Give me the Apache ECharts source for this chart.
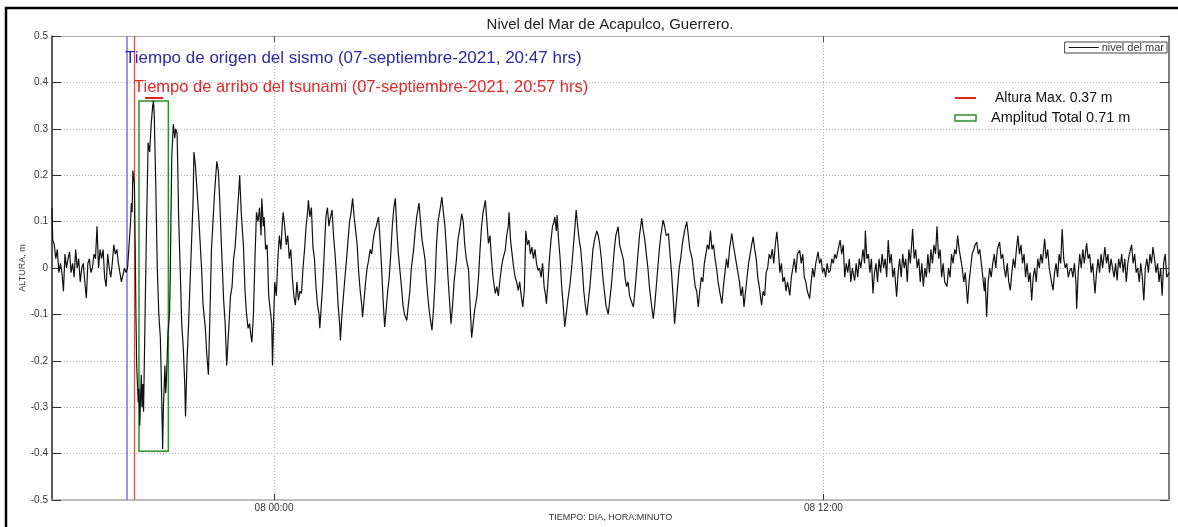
<!DOCTYPE html>
<html>
<head>
<meta charset="utf-8">
<script src="https://cdn.jsdelivr.net/npm/echarts@6/dist/echarts.min.js"></script>
<style>
html,body{margin:0;padding:0;background:#fff;}
#c{width:1178px;height:527px;}
</style>
</head>
<body>
<div id="c"></div>
<script>
// time in minutes relative to 08-sep-2021 00:00, sea level in metres
const calmBefore = [[-291,0.13],[-290,0.06],[-288,0.05],[-286,0.02],[-284,0.04],[-282,-0.01],[-280,0.01],[-278,-0.01],[-276,-0.05],[-274,0.03],[-272,0.0],[-270,0.02],[-268,0.035],[-266,-0.01],[-264,0.01],[-262,-0.02],[-260,0.04],[-258,0.0],[-256,0.02],[-254,-0.03],[-252,0.0],[-250,0.01],[-248,-0.03],[-246,-0.065],[-244,0.01],[-242,0.02],[-240,-0.01],[-238,0.0],[-236,0.03],[-234,0.02],[-232,0.09],[-230,0.0],[-228,0.04],[-226,0.02],[-224,0.04],[-222,-0.02],[-220,-0.04],[-218,0.03],[-216,0.0],[-214,-0.02],[-212,0.01],[-210,0.05],[-208,0.03],[-206,0.04],[-204,0.01],[-202,-0.01],[-200,-0.03],[-198,-0.03],[-196,0.0],[-194,-0.01],[-192,0.0]];
const tsunamiWaves = [[-190,0.05],[-188,0.1],[-187,0.14],[-186,0.12],[-185,0.21],[-183,0.18],[-182,0.05],[-181,-0.1],[-180,-0.21],[-178,-0.29],[-177,-0.26],[-176,-0.34],[-174,-0.23],[-173,-0.3],[-172,-0.25],[-171,-0.31],[-169,-0.1],[-167,0.1],[-165,0.27],[-163,0.25],[-161,0.31],[-159,0.35],[-158,0.36],[-157,0.33],[-155,0.18],[-153,0.0],[-151,-0.1],[-149,-0.15],[-148,-0.22],[-147,-0.3],[-146,-0.39],[-145,-0.3],[-143,-0.21],[-142,-0.27],[-141,-0.24],[-139,-0.14],[-137,-0.1],[-136,-0.02],[-135,0.12],[-134,0.24],[-132,0.31],[-130,0.28],[-129,0.3],[-127,0.29],[-125,0.11],[-123,0.0],[-121,-0.12],[-119,-0.17],[-117,-0.25],[-116,-0.32],[-114,-0.2],[-112,-0.12],[-110,-0.03],[-108,0.06],[-106,0.15],[-105,0.25],[-103,0.22],[-101,0.17],[-99,0.12],[-97,0.06],[-95,0.0],[-93,-0.08],[-90,-0.13],[-88,-0.19],[-86,-0.23],[-84,-0.1],[-82,0.04],[-80,0.1],[-78,0.16],[-75,0.23],[-73,0.21],[-71,0.14],[-69,0.05],[-66,-0.07],[-64,-0.12],[-62,-0.21],[-60,-0.15],[-57,-0.06],[-55,-0.04],[-53,0.02],[-51,0.045],[-48,0.12],[-46,0.17],[-45,0.2],[-43,0.12],[-40,0.045],[-38,-0.05],[-36,-0.1],[-34,-0.13],[-32,-0.12],[-30,-0.15],[-29,-0.16],[-27,-0.1],[-25,0.02],[-23,0.12],[-21,0.1]];
const decayWaves = [[-19,0.13],[-17,0.07],[-16,0.15],[-14,0.09],[-13,0.11],[-11,0.04],[-9,0.05],[-7,-0.06],[-5,-0.09],[-3,-0.12],[-2,-0.21],[0,-0.08],[1,-0.03],[3,-0.06],[5,0.02],[7,0.07],[9,0.04],[11,0.1],[12,0.12],[14,0.09],[16,0.05],[18,0.07],[20,0.02],[22,0.04],[24,-0.02],[26,-0.06],[28,-0.08],[30,-0.03],[32,-0.07],[34,-0.05],[36,-0.055],[38,0.0],[40,0.04],[42,0.09],[44,0.12],[45,0.146],[47,0.11],[49,0.13],[51,0.045],[53,0.02],[55,-0.04],[57,-0.08],[59,-0.1],[60,-0.13],[62,-0.08],[64,-0.03],[66,0.04],[68,0.11],[70,0.13],[72,0.09],[74,0.11],[76,0.125],[78,0.07],[80,0.03],[82,-0.02],[84,-0.08],[86,-0.12],[87,-0.156],[89,-0.1],[91,-0.06],[93,-0.02],[95,0.017],[97,0.06],[99,0.1],[101,0.12],[103,0.15],[105,0.11],[107,0.08],[109,0.05],[111,-0.01],[113,-0.05],[115,-0.08],[116,-0.106],[118,-0.07],[120,-0.03],[122,0.0],[124,0.017],[126,0.04],[128,0.03],[130,0.06],[132,0.08],[134,0.09],[137,0.11],[139,0.06],[141,0.0],[143,-0.07],[145,-0.127],[147,-0.09],[149,-0.05],[151,-0.02],[153,0.03],[155,0.09],[157,0.13],[159,0.15],[161,0.08],[163,0.03],[165,-0.005],[167,-0.04],[169,-0.08],[171,-0.1],[174,-0.113],[176,-0.08],[178,-0.05],[180,0.0],[183,0.04],[185,0.08],[187,0.11],[190,0.14],[192,0.1],[194,0.06],[196,0.04],[198,0.017],[200,-0.03],[202,-0.07],[204,-0.1],[207,-0.134],[209,-0.09],[211,-0.03],[213,0.053],[215,0.1],[218,0.13],[220,0.153],[222,0.12],[224,0.09],[226,0.04],[228,-0.02],[230,-0.07],[232,-0.12],[234,-0.08],[236,-0.03],[239,0.017],[241,0.06],[244,0.09],[246,0.117],[248,0.1],[250,0.05],[252,0.02],[255,-0.005],[257,-0.08],[259,-0.15],[261,-0.12],[263,-0.09],[266,-0.06],[268,-0.02],[270,0.04],[272,0.09],[274,0.12],[277,0.146],[279,0.1],[281,0.053],[283,0.07],[285,0.02],[287,-0.02],[290,-0.055],[292,-0.04],[294,-0.06],[296,-0.027],[298,0.0],[300,0.02],[303,0.038],[305,0.07],[307,0.09],[308,0.12],[310,0.06],[312,0.03],[314,0.002],[316,-0.02],[318,-0.03],[320,-0.048],[322,-0.03],[324,-0.06],[326,-0.084],[328,-0.05],[330,0.08],[332,0.05],[334,0.06],[336,0.03],[338,0.045],[340,0.02],[342,0.04],[344,0.01],[346,-0.005],[348,0.0]];
const lateWaves = [[350,-0.02],[352,0.01],[354,-0.04],[356,-0.06],[357,-0.077],[359,-0.03],[361,0.02],[363,0.06],[365,0.09],[367,0.1],[368,0.11],[370,0.08],[371,0.114],[373,0.06],[375,0.02],[377,-0.04],[379,-0.08],[381,-0.127],[383,-0.1],[385,-0.07],[388,-0.034],[390,0.0],[392,0.04],[394,0.08],[396,0.125],[398,0.09],[400,0.06],[402,0.04],[404,0.0],[406,-0.05],[408,-0.08],[410,-0.102],[412,-0.07],[414,-0.04],[416,0.0],[418,0.04],[420,0.06],[423,0.08],[425,0.07],[427,0.05],[429,0.02],[431,-0.02],[433,-0.05],[435,-0.08],[438,-0.1],[440,-0.07],[442,-0.04],[444,0.0],[446,0.04],[448,0.07],[451,0.089],[453,0.05],[456,0.03],[458,0.017],[460,-0.02],[462,-0.04],[464,-0.03],[466,-0.06],[468,-0.07],[471,-0.084],[473,-0.05],[475,-0.01],[477,0.03],[479,0.07],[482,0.107],[484,0.08],[486,0.06],[488,0.03],[490,0.0],[492,-0.04],[494,-0.07],[497,-0.109],[499,-0.08],[501,-0.04],[503,0.0],[505,0.04],[507,0.07],[510,0.103],[512,0.09],[514,0.07],[517,0.074],[519,0.03],[521,-0.01],[523,-0.06],[525,-0.12],[527,-0.08],[529,-0.04],[531,0.0],[533,0.02],[535,0.05],[538,0.08],[541,0.1],[543,0.07],[545,0.04],[548,0.02],[550,-0.01],[552,-0.04],[554,-0.05],[556,-0.084],[558,-0.05],[560,-0.02],[562,-0.03],[564,0.01],[566,0.03],[568,0.05],[570,0.04],[572,0.08],[574,0.04],[576,0.05],[578,0.02],[580,0.0],[582,-0.03],[584,-0.05],[587,-0.077],[589,-0.04],[591,-0.01],[593,0.02],[595,0.0],[597,0.04],[600,0.074],[602,0.05],[604,0.03],[606,0.01],[608,-0.01],[610,-0.03],[612,-0.06],[614,-0.04],[616,-0.084],[618,-0.05],[620,-0.02],[622,0.01],[624,0.03],[626,0.05],[628,0.067],[630,0.04],[632,0.02],[634,-0.02],[636,-0.04],[639,-0.08],[641,-0.05],[643,-0.06],[645,-0.01],[647,0.0],[649,0.03],[651,0.02],[653,0.04],[655,0.01],[657,0.05],[659,0.078],[661,0.04],[663,-0.01],[665,0.01],[667,-0.03],[669,-0.02],[671,-0.05],[673,-0.03],[676,-0.059],[678,-0.02],[680,0.0],[682,0.02],[684,-0.01],[686,0.03],[689,0.038],[691,0.01],[693,0.03],[695,-0.02],[697,-0.03],[699,-0.05],[702,-0.066],[704,-0.03],[706,0.0],[708,-0.02],[710,0.01],[713,0.035],[715,0.01],[717,0.02],[719,-0.01],[721,0.0],[723,-0.02],[725,0.01],[727,-0.01],[729,-0.005],[731,0.02],[733,0.01],[735,0.03],[737,0.02],[740,0.045]];
const calmAfter = [[742,0.06],[744,0.03],[746,0.05],[748,-0.02],[750,0.01],[752,-0.01],[754,0.02],[756,-0.03],[758,0.0],[761,-0.027],[763,0.01],[765,-0.02],[767,0.02],[769,0.0],[772,0.04],[774,0.01],[775,0.08],[777,0.02],[779,0.03],[781,-0.01],[783,0.02],[785,-0.055],[787,-0.01],[789,0.01],[791,-0.03],[793,0.02],[795,-0.01],[797,0.03],[799,0.0],[801,0.02],[803,-0.02],[805,0.06],[807,0.01],[809,0.03],[811,-0.02],[813,0.0],[816,-0.062],[818,-0.01],[820,0.02],[822,-0.02],[824,0.03],[826,0.0],[828,0.02],[830,-0.03],[832,0.04],[834,0.01],[837,0.084],[839,0.02],[841,0.04],[843,0.0],[845,0.02],[847,-0.03],[849,0.01],[851,-0.04],[853,0.0],[855,-0.02],[857,0.03],[859,-0.01],[861,0.04],[863,0.01],[865,0.05],[867,0.03],[869,0.09],[871,0.02],[873,0.04],[875,-0.02],[877,0.01],[879,-0.03],[882,-0.04],[884,0.0],[886,-0.02],[888,0.03],[890,0.01],[892,0.04],[894,0.03],[896,0.07],[898,0.04],[900,0.02],[902,0.0],[904,-0.03],[906,-0.01],[909,-0.077],[911,-0.03],[913,0.0],[915,0.03],[917,0.04],[919,0.05],[921,0.056],[923,0.03],[925,0.04],[927,0.01],[929,-0.02],[931,-0.05],[932,-0.02],[934,-0.105],[936,-0.03],[938,0.0],[940,-0.02],[942,0.01],[944,0.03],[946,0.0],[948,0.04],[951,0.056],[953,0.02],[955,0.03],[957,0.0],[959,-0.02],[961,0.01],[963,-0.03],[965,-0.048],[967,-0.01],[969,0.02],[971,0.0],[973,0.04],[975,0.07],[977,0.03],[979,0.05],[981,0.01],[983,0.03],[985,-0.02],[987,0.01],[989,-0.03],[991,-0.01],[993,-0.07],[995,-0.02],[997,0.0],[999,-0.03],[1001,0.02],[1003,0.0],[1005,0.03],[1007,0.01],[1010,0.063],[1012,0.02],[1014,0.04],[1016,0.0],[1018,-0.02],[1021,-0.048],[1023,-0.01],[1025,0.01],[1027,-0.02],[1029,0.03],[1031,0.01],[1033,0.084],[1035,0.02],[1037,0.0],[1039,0.01],[1041,-0.02],[1043,-0.005],[1045,0.0],[1047,-0.02],[1049,0.01],[1051,-0.03],[1052,-0.088],[1054,-0.01],[1056,0.03],[1058,0.0],[1060,0.04],[1062,0.01],[1065,0.053],[1067,0.02],[1069,0.03],[1071,-0.01],[1073,0.01],[1076,-0.055],[1078,-0.01],[1080,0.02],[1082,-0.01],[1084,0.03],[1086,0.0],[1089,0.045],[1091,0.01],[1093,0.03],[1095,-0.01],[1097,0.02],[1099,0.0],[1101,-0.02],[1103,0.01],[1105,-0.027],[1107,0.02],[1109,0.0],[1111,0.03],[1113,-0.01],[1115,0.02],[1117,-0.03],[1119,0.01],[1121,0.03],[1124,0.05],[1126,0.01],[1128,0.03],[1130,-0.01],[1132,0.0],[1134,-0.03],[1136,0.01],[1138,-0.02],[1140,-0.07],[1142,0.0],[1144,0.02],[1146,-0.01],[1148,0.03],[1150,0.01],[1152,0.045],[1154,0.02],[1156,-0.01],[1158,0.01],[1160,-0.03],[1162,0.0],[1164,-0.06],[1166,0.01],[1168,0.03],[1170,-0.02],[1173,-0.01]];

const xRange = [-291, 1173];           // 07 19:09 .. 08 19:33
const xTickMinutes = [0, 720];          // 08 00:00, 08 12:00
const quakeMinute = -193;               // 07 20:47
const arrivalMinute = -183;             // 07 20:57
const maxHeight = {from: -169, to: -145.5, level: 0.367};
const amplitudeBox = {from: -177, to: -138.5, top: 0.36, bottom: -0.395};

const FONT = "'Liberation Sans', Arial, sans-serif";
function fmtTime(v) {
  const total = Math.round(v) + 1440 * 8;
  const d = Math.floor(total / 1440);
  const rem = total - d * 1440;
  const h = Math.floor(rem / 60), m = rem % 60;
  const p = n => (n < 10 ? '0' : '') + n;
  return p(d) + ' ' + p(h) + ':' + p(m);
}

const seaLevel = calmBefore.concat(tsunamiWaves, decayWaves, lateWaves, calmAfter);

const chart = echarts.init(document.getElementById('c'), null, {renderer: 'canvas'});
const gridLine = {show: true, lineStyle: {color: '#b0b0b0', width: 1, type: [1, 2]}};
function vLine(name, minute, color, width) {
  return {
    name: name, type: 'line', data: [], silent: true,
    color: color, itemStyle: {color: color}, lineStyle: {color: color},
    markLine: {silent: true, symbol: 'none', animation: false, label: {show: false},
      lineStyle: {color: color, width: width, type: 'solid'},
      data: [{xAxis: minute, lineStyle: {color: color, width: width, type: 'solid'}}]}
  };
}
chart.setOption({
  animation: false,
  backgroundColor: '#fff',
  textStyle: {fontFamily: FONT},
  grid: {left: 52, right: 9, top: 36, bottom: 27, containLabel: false, outerBoundsMode: 'none'},
  legend: {
    right: 11, top: 42, orient: 'horizontal',
    data: [{name: 'nivel del mar', icon: 'rect'}],
    itemWidth: 30, itemHeight: 1, itemGap: 4,
    padding: [0, 3, 0, 4],
    borderColor: '#444', borderWidth: 1, backgroundColor: '#fff',
    textStyle: {fontSize: 11, color: '#333', fontFamily: FONT, padding: [0, 0, 0, -2]}
  },
  xAxis: [{
    type: 'value', min: xRange[0], max: xRange[1], position: 'bottom',
    name: 'TIEMPO: DIA, HORA:MINUTO', nameLocation: 'middle', nameGap: 13, nameMoveOverlap: false,
    nameTextStyle: {fontSize: 9, color: '#333', fontFamily: FONT},
    axisLine: {show: true, onZero: false, lineStyle: {color: '#aaa', width: 1.5}},
    axisTick: {show: true, inside: true, length: 6, customValues: xTickMinutes, lineStyle: {color: '#333'}},
    axisLabel: {customValues: xTickMinutes, formatter: fmtTime, fontSize: 10, color: '#333', margin: 3, fontFamily: FONT},
    splitLine: gridLine
  }, {
    type: 'value', min: xRange[0], max: xRange[1], position: 'top',
    axisLine: {show: true, onZero: false, lineStyle: {color: '#aaa', width: 1}},
    axisTick: {show: true, inside: true, length: 6, customValues: xTickMinutes, lineStyle: {color: '#555'}},
    axisLabel: {show: false}, splitLine: {show: false}
  }],
  yAxis: [{
    type: 'value', min: -0.5, max: 0.5, interval: 0.1, position: 'left',
    name: 'ALTURA, m', nameLocation: 'middle', nameGap: 25, nameRotate: 90, nameMoveOverlap: false,
    nameTextStyle: {fontSize: 9, color: '#444', fontFamily: FONT},
    axisLine: {show: true, onZero: false, lineStyle: {color: '#222', width: 1.5}},
    axisTick: {show: true, inside: true, length: 9, lineStyle: {color: '#333'}},
    axisLabel: {fontSize: 10, color: '#333', margin: 4, fontFamily: FONT,
      formatter: v => String(+v.toFixed(1))},
    splitLine: gridLine
  }, {
    type: 'value', min: -0.5, max: 0.5, interval: 0.1, position: 'right',
    axisLine: {show: true, onZero: false, lineStyle: {color: '#555', width: 1.5}},
    axisTick: {show: true, inside: true, length: 9, lineStyle: {color: '#444'}},
    axisLabel: {show: false}, splitLine: {show: false}
  }],
  series: [{
    name: 'nivel del mar', type: 'line', data: seaLevel,
    showSymbol: false, symbol: 'none',
    lineStyle: {color: '#111', width: 1.2},
    itemStyle: {color: '#111'},
    z: 5
  },
  vLine('origen', quakeMinute, '#7676cc', 1.5),
  vLine('arribo', arrivalMinute, '#d65050', 1.2),
  {
    name: 'altura max', type: 'line', data: [], silent: true,
    markLine: {silent: true, symbol: 'none', animation: false, label: {show: false},
      lineStyle: {color: '#e02424', width: 2, type: 'solid'},
      data: [[{coord: [maxHeight.from, maxHeight.level]}, {coord: [maxHeight.to, maxHeight.level]}]]}
  },
  {
    name: 'amplitud', type: 'line', data: [], silent: true,
    markArea: {
      silent: true,
      itemStyle: {color: 'rgba(0,0,0,0)', borderColor: '#2e8b2e', borderWidth: 1.5},
      data: [[{coord: [amplitudeBox.from, amplitudeBox.top]}, {coord: [amplitudeBox.to, amplitudeBox.bottom]}]]
    }
  }],
  graphic: [
    {type: 'rect', silent: true, shape: {x: 6, y: 8, width: 1200, height: 560},
     style: {fill: 'none', stroke: '#000', lineWidth: 2.5}, z: 100},
    {type: 'text', x: 610, y: 25, silent: true,
     style: {text: 'Nivel del Mar de Acapulco, Guerrero.', fill: '#222',
       font: "15px 'Liberation Sans', Arial, sans-serif", align: 'center', verticalAlign: 'middle'}, z: 50},
    {type: 'text', x: 125, y: 58, silent: true,
     style: {text: 'Tiempo de origen del sismo (07-septiembre-2021, 20:47 hrs)', fill: '#2a2aa6',
       font: "17px 'Liberation Sans', Arial, sans-serif", verticalAlign: 'middle'}, z: 50},
    {type: 'text', x: 134, y: 87, silent: true,
     style: {text: 'Tiempo de arribo del tsunami (07-septiembre-2021, 20:57 hrs)', fill: '#e0282a',
       font: "16.5px 'Liberation Sans', Arial, sans-serif", verticalAlign: 'middle'}, z: 50},
    {type: 'line', silent: true, shape: {x1: 955, y1: 98, x2: 976, y2: 98},
     style: {stroke: '#e02424', lineWidth: 2}, z: 50},
    {type: 'text', x: 995, y: 98, silent: true,
     style: {text: 'Altura Max. 0.37 m', fill: '#111', font: "14px 'Liberation Sans', Arial, sans-serif", verticalAlign: 'middle'}, z: 50},
    {type: 'rect', silent: true, shape: {x: 955, y: 115, width: 21, height: 6},
     style: {fill: '#fff', stroke: '#2e8b2e', lineWidth: 1.5}, z: 50},
    {type: 'text', x: 991, y: 118, silent: true,
     style: {text: 'Amplitud Total 0.71 m', fill: '#111', font: "14.5px 'Liberation Sans', Arial, sans-serif", verticalAlign: 'middle'}, z: 50}
  ]
});
</script>
</body>
</html>
